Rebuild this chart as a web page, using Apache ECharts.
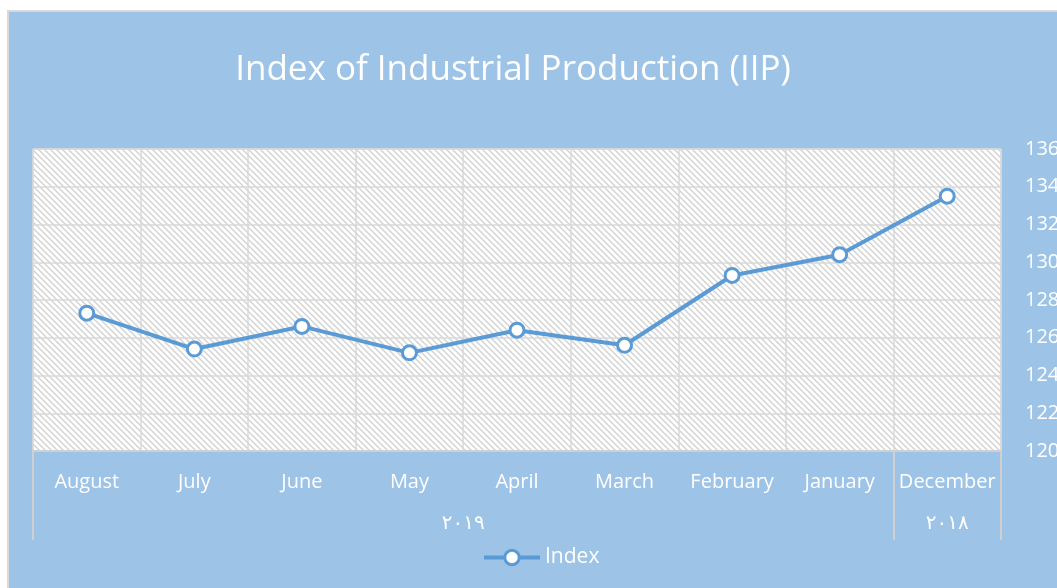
<!DOCTYPE html>
<html>
<head>
<meta charset="utf-8">
<script src="https://cdn.jsdelivr.net/npm/echarts@6/dist/echarts.min.js"></script>
<style>
html,body{margin:0;padding:0;background:#ffffff;width:1057px;height:588px;overflow:hidden;}
#chart{position:absolute;left:7px;top:10px;width:1050px;height:578px;box-sizing:border-box;border-left:2px solid #d9d9d9;border-top:2px solid #d9d9d9;background:#9DC3E6;}
</style>
</head>
<body>
<div id="chart"></div>
<script>
// ---- data ----
const categories = ['August','July','June','May','April','March','February','January','December'];
const indexValues = [127.3, 125.4, 126.6, 125.2, 126.4, 125.6, 129.3, 130.4, 133.5];
const yearLabels = ['٢٠١٩', '٢٠١٨'];
const yearMonthCounts = [8, 1];
const yTicks = {min: 120, max: 136, step: 2};

// year group boundaries and centers derived from counts
const yearBounds = [0];
yearMonthCounts.forEach(c => yearBounds.push(yearBounds[yearBounds.length - 1] + c));
const yearCenters = yearMonthCounts.map((c, i) => yearBounds[i] + c / 2);

// hatch pattern for the plot area
const tile = document.createElement('canvas');
tile.width = 6; tile.height = 6;
const tctx = tile.getContext('2d');
tctx.fillStyle = '#ffffff';
tctx.fillRect(0, 0, 6, 6);
tctx.strokeStyle = '#d0d0d0';
tctx.lineWidth = 1.3;
tctx.beginPath();
tctx.moveTo(-1, -1); tctx.lineTo(7, 7);
tctx.moveTo(-7, -1); tctx.lineTo(1, 7);
tctx.moveTo(5, -1); tctx.lineTo(13, 7);
tctx.stroke();

const chart = echarts.init(document.getElementById('chart'));
const lineColor = '#5B9BD5';
const gridColor = '#d9d9d9';

chart.setOption({
  backgroundColor: '#9DC3E6',
  animation: false,
  title: {
    text: 'Index of Industrial Production (IIP)',
    left: 499,
    top: 36,
    textAlign: 'center',
    textStyle: {color: '#ffffff', fontFamily: 'Open Sans', fontWeight: 'normal', fontSize: 35}
  },
  legend: {
    data: ['Index'],
    left: 468,
    top: 530,
    itemWidth: 56,
    itemHeight: 18,
    itemGap: 4,
    lineStyle: {width: 4, color: lineColor},
    itemStyle: {color: '#ffffff', borderColor: lineColor, borderWidth: 3},
    textStyle: {color: '#ffffff', fontFamily: 'Open Sans', fontSize: 21}
  },
  grid: {
    left: 24, right: 56, top: 137, bottom: 137,
    outerBoundsMode: 'none',
    containLabel: false,
    show: true,
    backgroundColor: {image: tile, repeat: 'repeat'},
    borderColor: gridColor,
    borderWidth: 1
  },
  xAxis: [
    {
      type: 'category',
      data: categories,
      boundaryGap: true,
      axisLine: {show: true, lineStyle: {color: '#d0d0d0', width: 2}},
      axisTick: {show: false},
      axisLabel: {color: '#ffffff', fontFamily: 'Open Sans', fontSize: 20, margin: 21, interval: 0},
      splitLine: {show: true, interval: 0, lineStyle: {color: gridColor, width: 1.5}}
    },
    {
      type: 'value',
      min: 0,
      max: categories.length,
      position: 'bottom',
      axisLine: {show: false},
      splitLine: {show: false},
      axisTick: {
        show: true,
        customValues: yearBounds,
        length: 89,
        lineStyle: {color: '#d0d0d0', width: 2}
      },
      axisLabel: {
        show: true,
        customValues: yearCenters,
        margin: 63,
        color: '#ffffff',
        fontFamily: 'DejaVu Sans',
        fontSize: 20,
        formatter: function (v) {
          const i = yearCenters.indexOf(v);
          return i >= 0 ? yearLabels[i] : '';
        }
      }
    }
  ],
  yAxis: {
    type: 'value',
    position: 'right',
    min: yTicks.min,
    max: yTicks.max,
    interval: yTicks.step,
    axisLine: {show: false},
    axisTick: {show: false},
    axisLabel: {color: '#ffffff', fontFamily: 'Open Sans', fontSize: 20, margin: 24, verticalAlign: 'middle', padding: [4, 0, 0, 0]},
    splitLine: {show: true, lineStyle: {color: gridColor, width: 1.5}}
  },
  series: [{
    name: 'Index',
    type: 'line',
    data: indexValues,
    xAxisIndex: 0,
    symbol: 'circle',
    symbolSize: 14,
    lineStyle: {color: lineColor, width: 4},
    itemStyle: {color: '#ffffff', borderColor: lineColor, borderWidth: 3}
  }]
});
</script>
</body>
</html>
